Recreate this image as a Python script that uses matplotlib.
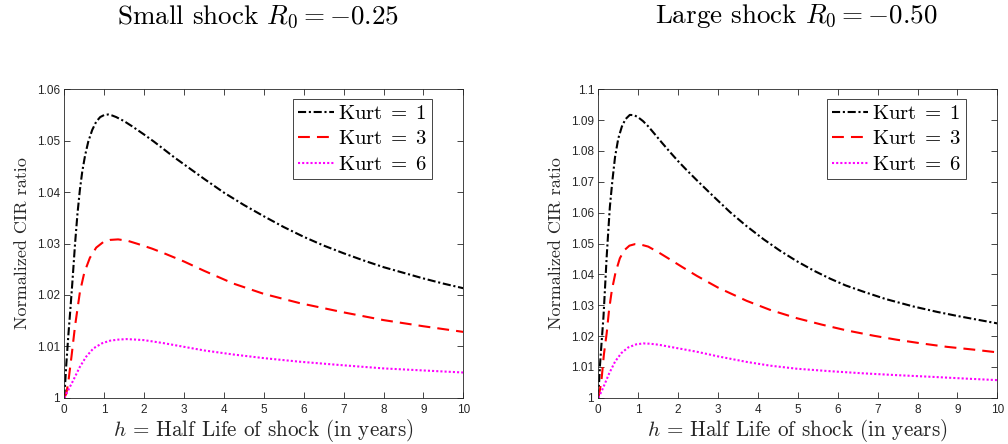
import matplotlib
matplotlib.use("Agg")
import matplotlib.pyplot as plt

# ---------------- data ----------------
h_small_k1 = [0, 0.05, 0.1, 0.15, 0.2, 0.27, 0.33, 0.39, 0.45, 0.52, 0.6, 0.7, 0.8, 0.9, 1.0, 1.1, 1.2, 1.3,
              1.4, 1.5, 1.7, 2.0, 2.25, 2.5, 2.75, 3.0, 3.5, 4.0, 4.5, 5.0, 5.5, 6.0, 6.5, 7.0, 7.5, 8.0,
              8.5, 9.0, 9.5, 10]
v_small_k1 = [1.0, 1.0065, 1.0120, 1.0170, 1.0222, 1.0300, 1.0358, 1.0404, 1.0440, 1.0471, 1.0498, 1.0521,
              1.0537, 1.0546, 1.0550, 1.0551, 1.0549, 1.0546, 1.0542, 1.0538, 1.0528, 1.0512, 1.0498, 1.0483,
              1.0468, 1.0454, 1.0426, 1.0399, 1.0375, 1.0353, 1.0332, 1.0313, 1.0296, 1.0281, 1.0267, 1.0254,
              1.0243, 1.0232, 1.0222, 1.0213]

h_small_k3 = [0, 0.05, 0.1, 0.18, 0.27, 0.39, 0.5, 0.64, 0.8, 0.98, 1.15, 1.35, 1.6, 1.85, 2.2, 2.5, 3.0,
              3.5, 4.24, 5.0, 5.9, 7.0, 8.0, 9.0, 10]
v_small_k3 = [1.0, 1.0008, 1.0030, 1.0080, 1.0140, 1.0205, 1.0243, 1.0272, 1.0292, 1.0303, 1.0307, 1.0308,
              1.0305, 1.0299, 1.0290, 1.0281, 1.0265, 1.0247, 1.0222, 1.0202, 1.0184, 1.0166, 1.0151, 1.0139,
              1.0128]

h_small_k6 = [0, 0.1, 0.2, 0.39, 0.55, 0.73, 0.95, 1.15, 1.35, 1.56, 1.8, 2.0, 2.5, 3.0, 3.5, 4.24, 5.0,
              5.9, 7.0, 8.0, 9.0, 10]
v_small_k6 = [1.0, 1.0015, 1.0030, 1.0060, 1.0080, 1.0096, 1.0106, 1.0111, 1.0113, 1.0114, 1.0113, 1.0112,
              1.0106, 1.0099, 1.0092, 1.0084, 1.0077, 1.0070, 1.0063, 1.0057, 1.0053, 1.0049]

h_large_k1 = [0, 0.04, 0.08, 0.13, 0.17, 0.21, 0.25, 0.29, 0.35, 0.42, 0.5, 0.59, 0.68, 0.79, 0.9, 1.0, 1.12,
              1.25, 1.4, 1.6, 1.8, 2.0, 2.2, 2.47, 2.9, 3.3, 3.7, 4.14, 4.55, 4.97, 5.4, 5.81, 6.2, 6.64,
              7.2, 7.89, 8.5, 9.0, 9.5, 10]
v_large_k1 = [1.0, 1.0101, 1.0175, 1.0263, 1.0360, 1.0457, 1.0540, 1.0619, 1.0700, 1.0781, 1.0840, 1.0879,
              1.0903, 1.0917, 1.0916, 1.0909, 1.0897, 1.0880, 1.0857, 1.0826, 1.0796, 1.0767, 1.0740, 1.0705,
              1.0651, 1.0602, 1.0558, 1.0514, 1.0477, 1.0443, 1.0412, 1.0386, 1.0364, 1.0344, 1.0320, 1.0296,
              1.0278, 1.0265, 1.0253, 1.0241]

h_large_k3 = [0, 0.04, 0.08, 0.14, 0.21, 0.27, 0.34, 0.43, 0.54, 0.65, 0.78, 0.92, 1.05, 1.25, 1.5, 1.84,
              2.1, 2.47, 3.0, 3.72, 4.3, 4.97, 5.6, 6.23, 6.9, 7.48, 8.1, 8.73, 9.4, 10]
v_large_k3 = [1.0, 1.0025, 1.0057, 1.0140, 1.0209, 1.0285, 1.0349, 1.0405, 1.0452, 1.0478, 1.0493, 1.0498,
              1.0497, 1.0490, 1.0472, 1.0445, 1.0424, 1.0395, 1.0357, 1.0314, 1.0285, 1.0258, 1.0237, 1.0218,
              1.0201, 1.0188, 1.0176, 1.0165, 1.0156, 1.0147]

h_large_k6 = [0, 0.08, 0.17, 0.27, 0.42, 0.58, 0.75, 0.95, 1.13, 1.3, 1.5, 1.88, 2.47, 3.0, 3.72, 4.3, 4.97,
              5.8, 6.64, 7.5, 8.31, 9.2, 10]
v_large_k6 = [1.0, 1.0020, 1.0047, 1.0078, 1.0117, 1.0145, 1.0163, 1.0173, 1.0176, 1.0175, 1.0172, 1.0163,
              1.0149, 1.0134, 1.0116, 1.0104, 1.0094, 1.0086, 1.0079, 1.0073, 1.0068, 1.0062, 1.0057]

legend_labels = [r"$\mathrm{Kurt}\;=\;1$", r"$\mathrm{Kurt}\;=\;3$", r"$\mathrm{Kurt}\;=\;6$"]
titles = [r"Small shock $R_0 = -0.25$", r"Large shock $R_0 = -0.50$"]
xlabel = r"$h$ = Half Life of shock (in years)"
ylabel = "Normalized CIR ratio"

xticks = list(range(0, 11))
yticks_small = [1, 1.01, 1.02, 1.03, 1.04, 1.05, 1.06]
ytick_labels_small = ["1", "1.01", "1.02", "1.03", "1.04", "1.05", "1.06"]
yticks_large = [1, 1.01, 1.02, 1.03, 1.04, 1.05, 1.06, 1.07, 1.08, 1.09, 1.1]
ytick_labels_large = ["1", "1.01", "1.02", "1.03", "1.04", "1.05", "1.06", "1.07", "1.08", "1.09", "1.1"]

# ---------------- style ----------------
plt.rcParams["mathtext.fontset"] = "cm"
plt.rcParams["font.family"] = ["cmr10", "DejaVu Serif"]
plt.rcParams["axes.formatter.use_mathtext"] = True

W, H = 1008, 444
fig = plt.figure(figsize=(W / 100, H / 100), dpi=100)

axcol = "#262626"
tickfont = {"family": "Liberation Sans", "size": 8.5}

panels = [
    (64.3, [(h_small_k1, v_small_k1), (h_small_k3, v_small_k3), (h_small_k6, v_small_k6)],
     (1.0, 1.06), yticks_small, ytick_labels_small, 258),
    (598.3, [(h_large_k1, v_large_k1), (h_large_k3, v_large_k3), (h_large_k6, v_large_k6)],
     (1.0, 1.1), yticks_large, ytick_labels_large, 796),
]

LW = 1.5
styles = [
    dict(color="black", linestyle=(0, (3.9, 1.3, 1.0, 1.3))),
    dict(color="#ff0000", linestyle=(0, (5.7, 3.4))),
    dict(color="#ff00ff", linestyle=(0, (1.0, 1.0))),
]

ax_top, ax_bot = 89.3, 397.7
ax_w = 399.0
ax_h = ax_bot - ax_top

for i, (x0, series, ylim, yt, ytl, tx) in enumerate(panels):
    ax = fig.add_axes([x0 / W, 1 - ax_bot / H, ax_w / W, ax_h / H])
    lines = []
    for (hh, vv), st in zip(series, styles):
        ln, = ax.plot(hh, vv, lw=LW, **st)
        lines.append(ln)
    ax.set_xlim(0, 10)
    ax.set_ylim(*ylim)
    ax.set_xticks(xticks)
    ax.set_xticklabels([str(t) for t in xticks], **tickfont)
    ax.set_yticks(yt)
    ax.set_yticklabels(ytl, **tickfont)
    ax.tick_params(direction="in", length=4.5, width=0.6, colors=axcol,
                   top=True, right=True)
    ax.tick_params(axis="x", pad=4.8)
    ax.tick_params(axis="y", pad=3.0)
    for sp in ax.spines.values():
        sp.set_color(axcol)
        sp.set_linewidth(0.6)

    xl = ax.set_xlabel(xlabel, fontsize=15.2, color=axcol)
    xl.set_verticalalignment("baseline")
    ax.xaxis.set_label_coords(0.5, (ax_bot - 436.0) / ax_h)

    yl = ax.set_ylabel(ylabel, fontsize=13, color=axcol)
    yl.set_verticalalignment("baseline")
    label_x_px = 26.7 if i == 0 else 26.7 + 534.0
    ax.yaxis.set_label_coords((label_x_px - x0) / ax_w, 0.5)

    leg = ax.legend(lines, legend_labels, loc="upper right",
                    bbox_to_anchor=((432.0 - 64.3) / ax_w, (ax_bot - 99.3) / ax_h),
                    fontsize=15, frameon=True, fancybox=False, edgecolor=axcol,
                    handlelength=1.73, handletextpad=0.19, borderpad=0.24,
                    labelspacing=0.33, borderaxespad=0.0, framealpha=1)
    leg.get_frame().set_linewidth(0.6)
    fig.text(tx / W, 1 - 23.5 / H, titles[i], fontsize=19.5, ha="center", va="baseline",
             color="black")

fig.savefig("out.png", dpi=100)
